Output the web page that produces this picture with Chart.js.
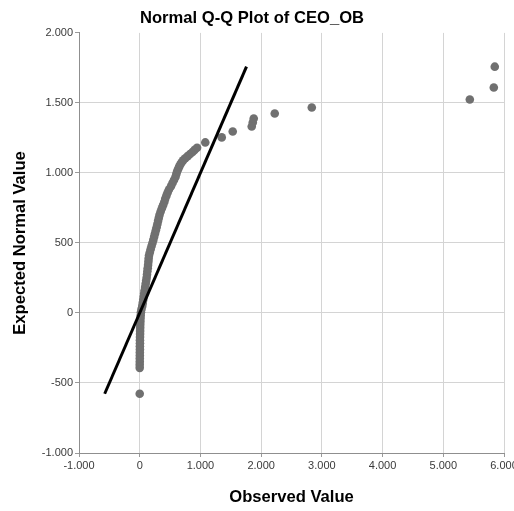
<!DOCTYPE html>
<html>
<head>
<meta charset="utf-8">
<script src="https://cdn.jsdelivr.net/npm/chart.js@4/dist/chart.umd.min.js"></script>
<style>
  html, body { margin: 0; padding: 0; background: #ffffff; }
  #wrap { width: 514px; height: 511px; }
</style>
</head>
<body>
<div id="wrap"><canvas id="c" width="514" height="511"></canvas></div>
<script>
// ---- Data ----
const chartTitle = 'Normal Q-Q Plot of CEO_OB';
const xTitle = 'Observed Value';
const yTitle = 'Expected Normal Value';

const xTickLabels = ['-1.000', '0', '1.000', '2.000', '3.000', '4.000', '5.000', '6.000'];
const yTickLabels = ['-1.000', '-500', '0', '500', '1.000', '1.500', '2.000'];

// Observed values (x) and expected normal values (y)
const observed = [
  0,
  0, 0, 1, 1, 2, 2, 3, 3, 4, 4, 5, 6, 7, 8, 9, 11, 13, 16,
  20, 30, 42, 50, 58, 66, 74, 82, 90, 98, 106, 114, 120, 126, 132, 138, 143, 147,
  153, 166, 180, 195, 210, 224, 238, 252, 266, 279, 291, 303, 315, 327, 345, 365, 385, 405,
  420, 440, 460, 482, 515, 540, 565, 590, 605,
  620, 635, 650, 668, 688, 715, 750, 790, 830, 870, 905, 945,
  1080, 1351, 1532, 1845, 1862, 1878, 2224, 2834, 5437, 5832, 5848
];
const expected = [
  -577,
  -392, -370, -348, -326, -304, -282, -260, -238, -216, -194, -172, -150, -128, -106, -84, -62, -40, -18,
  5, 28, 50, 72, 95, 118, 140, 162, 185, 208, 230, 252, 275, 298, 320, 342, 365, 388,
  410, 432, 455, 478, 500, 522, 545, 568, 590, 612, 635, 658, 680, 702, 725, 748, 770, 792,
  815, 838, 860, 882, 905, 928, 950, 972, 995,
  1015, 1030, 1045, 1060, 1075, 1090, 1105, 1120, 1135, 1150, 1165, 1180,
  1218, 1254, 1296, 1332, 1360, 1389, 1425, 1467, 1524, 1610, 1759
];

// Reference line (y = x) end points
const refLineX = [-577, 1759];
const refLineY = [-577, 1759];

// ---- Build chart ----
const points = observed.map((x, i) => ({ x: x, y: expected[i] }));
const linePts = refLineX.map((x, i) => ({ x: x, y: refLineY[i] }));

const FONT = "'Liberation Sans', Arial, sans-serif";

new Chart(document.getElementById('c'), {
  type: 'scatter',
  data: {
    datasets: [
      {
        type: 'line',
        data: linePts,
        borderColor: '#000000',
        borderWidth: 3,
        pointRadius: 0,
        fill: false,
        order: 0
      },
      {
        type: 'scatter',
        data: points,
        backgroundColor: '#707070',
        borderWidth: 0,
        pointRadius: 4.3,
        pointHoverRadius: 4.3,
        order: 1
      }
    ]
  },
  options: {
    responsive: false,
    animation: false,
    devicePixelRatio: 1,
    events: [],
    layout: { padding: { top: 0, right: 10, bottom: 0, left: 0 } },
    plugins: {
      legend: { display: false },
      tooltip: { enabled: false },
      title: {
        display: true,
        text: chartTitle,
        color: '#000000',
        font: { family: FONT, size: 16.6, weight: 'bold', lineHeight: 1.2 },
        padding: { top: 8, bottom: 5 }
      }
    },
    scales: {
      x: {
        type: 'linear',
        position: 'bottom',
        min: -1000,
        max: 6000,
        ticks: {
          stepSize: 1000,
          autoSkip: false,
          maxRotation: 0,
          padding: 2,
          color: '#3a3a3a',
          font: { family: FONT, size: 11 },
          callback: (v, i) => xTickLabels[i]
        },
        grid: {
          color: '#d4d4d4',
          lineWidth: 1,
          tickLength: 4,
          tickColor: '#9a9a9a'
        },
        border: { color: '#8f8f8f', width: 1 },
        title: {
          display: true,
          text: xTitle,
          color: '#000000',
          font: { family: FONT, size: 16.6, weight: 'bold', lineHeight: 1.2 },
          padding: { top: 0, bottom: 4 }
        },
        afterFit: (s) => { s.height = 58; s.paddingLeft = 0; s.paddingRight = 0; }
      },
      y: {
        type: 'linear',
        position: 'left',
        min: -1000,
        max: 2000,
        ticks: {
          stepSize: 500,
          autoSkip: false,
          padding: 2,
          color: '#3a3a3a',
          font: { family: FONT, size: 11 },
          callback: (v, i) => yTickLabels[i]
        },
        grid: {
          color: (ctx) => (ctx.tick && ctx.tick.value === 2000) ? 'rgba(0,0,0,0)' : '#d4d4d4',
          lineWidth: 1,
          tickLength: 4,
          tickColor: '#9a9a9a'
        },
        border: { color: '#8f8f8f', width: 1 },
        title: {
          display: true,
          text: yTitle,
          color: '#000000',
          font: { family: FONT, size: 16.6, weight: 'bold', lineHeight: 1.2 },
          padding: { top: 10, bottom: 0 }
        },
        afterFit: (s) => { s.width = 79; s.paddingTop = 0; s.paddingBottom = 0; }
      }
    }
  }
});
</script>
</body>
</html>
